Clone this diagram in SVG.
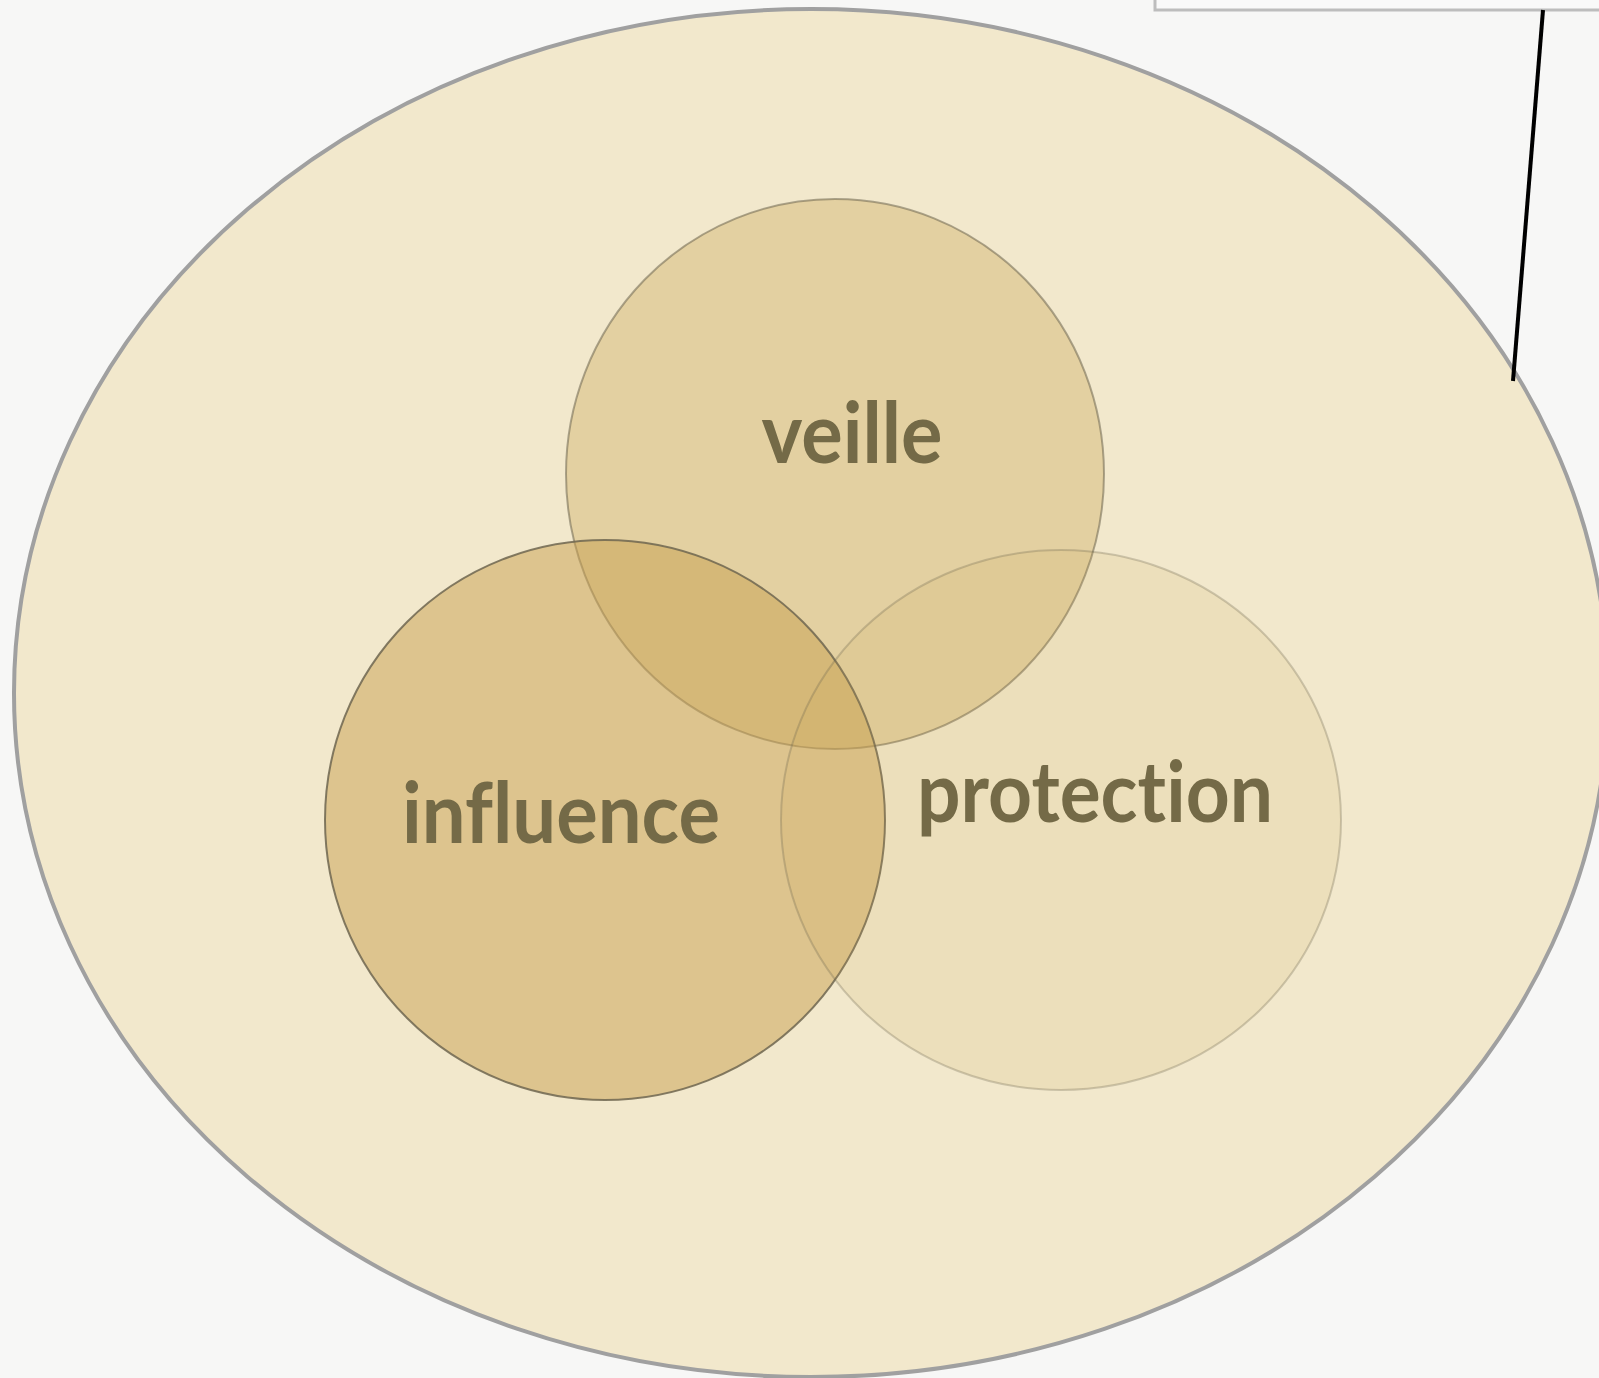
<svg xmlns="http://www.w3.org/2000/svg" width="1599" height="1378" viewBox="0 0 1599 1378">
<style>
.lbl{font-family:Lato,"Open Sans","DejaVu Sans",sans-serif;font-weight:bold;font-size:84px;fill:#746a47;text-anchor:middle;font-variant-ligatures:none;font-feature-settings:"liga" 0,"clig" 0,"dlig" 0}
.set{stroke-width:2}
</style>
<rect x="0" y="0" width="1599" height="1378" fill="#f7f7f6"/>
<g id="callout-box">
<rect x="1155" y="-20" width="470" height="30" fill="#f9f9f9" stroke="#bdbdbd" stroke-width="3"/>
</g>
<g id="universe">
<ellipse cx="811" cy="693" rx="797" ry="684" fill="#f2e8cc" stroke="#a0a0a0" stroke-width="4"/>
</g>
<g id="veille">
<ellipse class="set" cx="835" cy="474" rx="269" ry="275" fill="rgb(200,160,80)" fill-opacity="0.34" stroke="#6e6650" stroke-opacity="0.55"/>
</g>
<g id="influence">
<ellipse class="set" cx="605" cy="820" rx="280" ry="280" fill="rgb(200,160,80)" fill-opacity="0.5" stroke="#6e6650" stroke-opacity="0.85"/>
</g>
<g id="protection">
<ellipse class="set" cx="1061" cy="820" rx="280" ry="270" fill="rgb(200,160,80)" fill-opacity="0.13" stroke="#6e6650" stroke-opacity="0.3"/>
</g>
<g id="labels">
<text class="lbl" x="852" y="463" textLength="181" lengthAdjust="spacingAndGlyphs">veille</text>
<text class="lbl" x="561" y="843" textLength="318" lengthAdjust="spacingAndGlyphs">influence</text>
<text class="lbl" x="1095" y="822" textLength="356" lengthAdjust="spacingAndGlyphs">protection</text>
</g>
<g id="connectors">
<line x1="1543" y1="10" x2="1513" y2="381" stroke="#000" stroke-width="4"/>
</g>
</svg>
